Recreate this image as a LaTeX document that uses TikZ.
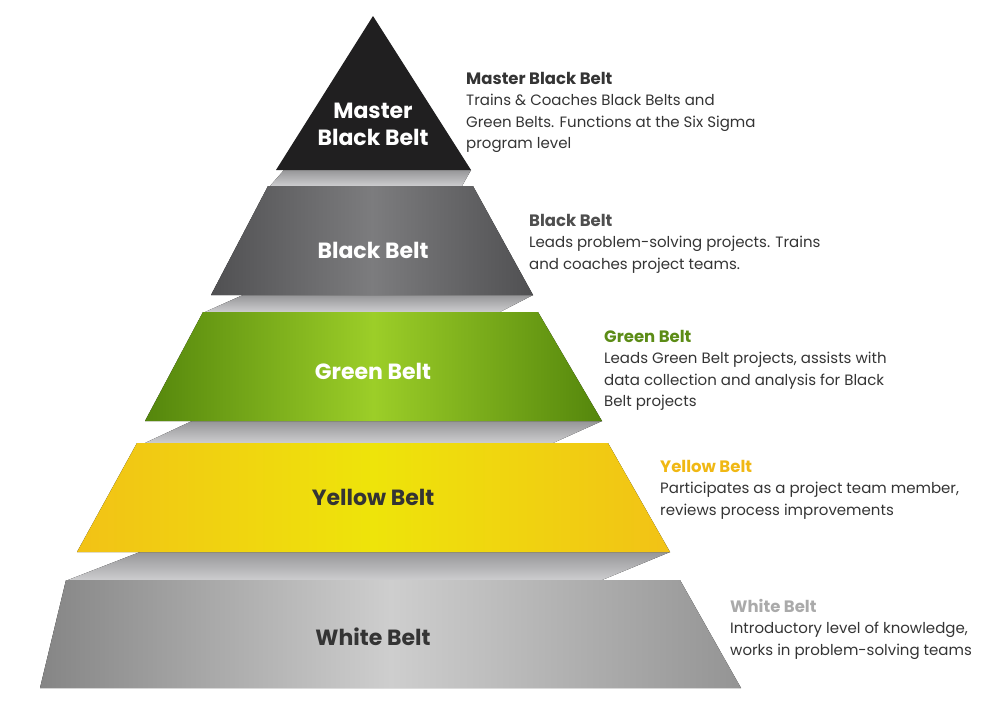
\documentclass[tikz,border=0pt]{standalone}
\usepackage{fontspec}
\setmainfont{Poppins}
\definecolor{mbbcol}{RGB}{32,31,32}
\definecolor{bbside}{RGB}{80,80,82}
\definecolor{bbmid}{RGB}{124,124,126}
\definecolor{gbside}{RGB}{84,134,12}
\definecolor{gbmid}{RGB}{156,206,40}
\definecolor{ybside}{RGB}{242,194,22}
\definecolor{ybmid}{RGB}{238,228,10}
\definecolor{wbside}{RGB}{148,148,148}
\definecolor{wbmid}{RGB}{206,206,206}
\definecolor{slabtop}{RGB}{150,150,152}
\definecolor{slabbot}{RGB}{205,205,207}
\definecolor{desctext}{RGB}{52,52,52}
\definecolor{bbhead}{RGB}{78,78,78}
\definecolor{gbhead}{RGB}{92,140,22}
\definecolor{ybhead}{RGB}{240,184,20}
\definecolor{wbhead}{RGB}{170,170,170}
\begin{document}
\begin{tikzpicture}[x=1pt,y=-1pt,
		slab/.style={top color=slabtop, bottom color=slabbot, draw=none},
		beltlabel/.style={font=\fontsize{22}{27}\selectfont\bfseries, align=center},
		belttext/.style={anchor=north west, align=left, inner sep=0pt, text=desctext, font=\fontsize{15}{21.5}\selectfont}]
		\useasboundingbox (0,0) rectangle (1001,705);

		% gaps between the layers
		\fill[slab] (284,170) -- (471,170) -- (462,186) -- (270,186) -- cycle;
		\fill[slab] (243,295) -- (533,295) -- (500,312) -- (205,312) -- cycle;
		\fill[slab] (192,421) -- (602,421) -- (553,443) -- (145,443) -- cycle;
		\fill[slab] (140,552) -- (670,552) -- (602,580) -- (68,580) -- cycle;

		% layers
		\fill[mbbcol] (373,16) -- (471,170) -- (276,170) -- cycle;
		\fill[left color=bbside, right color=bbside, middle color=bbmid] (268,186) -- (473,186) -- (533,295) -- (211,295) -- cycle;
		\fill[left color=gbside, right color=gbside, middle color=gbmid] (203,312) -- (538,312) -- (602,421) -- (145,421) -- cycle;
		\fill[left color=ybside, right color=ybside, middle color=ybmid] (137,443) -- (608,443) -- (670,552) -- (77,552) -- cycle;
		\fill[left color=wbside!90!black, right color=wbside, middle color=wbmid] (66,580) -- (680,580) -- (741,688) -- (40,688) -- cycle;

		\draw (373,124) node (mbb) [beltlabel, text=white] {Master\\Black Belt};
		\draw (373,250) node (bb) [beltlabel, text=white] {Black Belt};
		\draw (373,371) node (gb) [beltlabel, text=white] {Green Belt};
		\draw (373,497) node (yb) [beltlabel, text=desctext] {Yellow Belt};
		\draw (373,637) node (wb) [beltlabel, text=desctext] {White Belt};

		% descriptions
		\draw (466,72) node (mbbtext) [belttext] {{\bfseries\fontsize{16.5}{21.5}\selectfont Master Black Belt}\\Trains \& Coaches Black Belts and\\Green Belts. Functions at the Six Sigma\\program level};
		\draw (529,214) node (bbtext) [belttext] {{\bfseries\fontsize{16.5}{21.5}\selectfont\color{bbhead}Black Belt}\\Leads problem-solving projects. Trains\\and coaches project teams.};
		\draw (604,330) node (gbtext) [belttext] {{\bfseries\fontsize{16.5}{21.5}\selectfont\color{gbhead}Green Belt}\\Leads Green Belt projects, assists with\\data collection and analysis for Black\\Belt projects};
		\draw (660,460) node (ybtext) [belttext] {{\bfseries\fontsize{16.5}{21.5}\selectfont\color{ybhead}Yellow Belt}\\Participates as a project team member,\\reviews process improvements};
		\draw (730,599) node (wbtext) [belttext] {{\bfseries\fontsize{16.5}{21.5}\selectfont\color{wbhead}White Belt}\\Introductory level of knowledge,\\works in problem-solving teams};
	\end{tikzpicture}
\end{document}
